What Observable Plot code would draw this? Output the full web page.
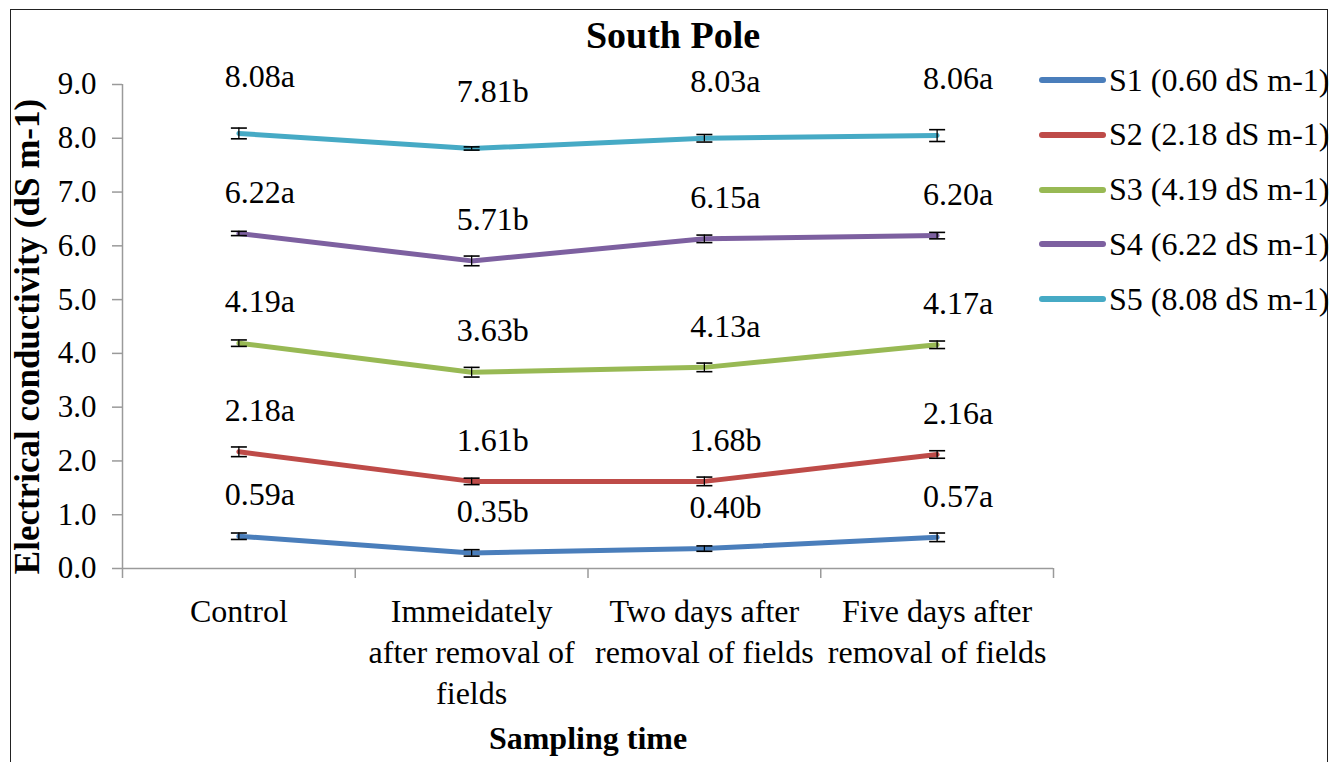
<!DOCTYPE html>
<html>
<head>
<meta charset="utf-8">
<script src="https://cdn.jsdelivr.net/npm/d3@7"></script>
<script src="https://cdn.jsdelivr.net/npm/@observablehq/plot@0.6"></script>
<style>
  body { margin: 0; background: #fff; }
  #wrap { position: relative; width: 1335px; height: 762px; overflow: hidden; background: #fff;
          font-family: "Liberation Serif", "Times New Roman", serif; color: #000; }
  #frame { position: absolute; left: 10px; top: 9px; width: 1318px; height: 800px;
           border: 1.5px solid #222; box-sizing: border-box; }
  #chart { position: absolute; left: 0; top: 0; }
  #title { position: absolute; left: 0; width: 1346px; top: 13px; text-align: center;
           font-weight: bold; font-size: 38px; line-height: 44px; }
  #legend { position: absolute; left: 1038px; top: 0; }
  .lg-row { position: absolute; left: 0; display: flex; align-items: center; white-space: nowrap;
            font-size: 32px; height: 40px; }
  .lg-row svg { display: block; margin-right: 2px; }
</style>
</head>
<body>
<div id="wrap">
  <div id="frame"></div>
  <div id="chart"></div>
  <div id="title"></div>
  <div id="legend"></div>
</div>
<script>
// ---------- data ----------
const chartTitle = "South Pole";
const xTitle = "Sampling time";
const yTitle = "Electrical conductivity (dS m-1)";

const categories = [
  "Control",
  "Immeidately\nafter removal of\nfields",
  "Two days after\nremoval of fields",
  "Five days after\nremoval of fields"
];

const seriesNames = [
  "S1 (0.60 dS m-1)",
  "S2 (2.18 dS m-1)",
  "S3 (4.19 dS m-1)",
  "S4 (6.22 dS m-1)",
  "S5 (8.08 dS m-1)"
];
const seriesColors = ["#4A7EBB", "#BE4B48", "#98B954", "#7D60A0", "#46AAC5"];

// plotted values (as drawn)
const s1 = [0.60, 0.29, 0.37, 0.58];
const s2 = [2.17, 1.62, 1.62, 2.12];
const s3 = [4.19, 3.65, 3.74, 4.16];
const s4 = [6.23, 5.72, 6.13, 6.19];
const s5 = [8.09, 7.81, 8.00, 8.05];

// error bar half-widths
const s1Err = [0.06, 0.06, 0.05, 0.08];
const s2Err = [0.09, 0.06, 0.08, 0.07];
const s3Err = [0.06, 0.09, 0.08, 0.07];
const s4Err = [0.04, 0.09, 0.07, 0.06];
const s5Err = [0.10, 0.03, 0.07, 0.11];

// data labels
const s1Labels = ["0.59a", "0.35b", "0.40b", "0.57a"];
const s2Labels = ["2.18a", "1.61b", "1.68b", "2.16a"];
const s3Labels = ["4.19a", "3.63b", "4.13a", "4.17a"];
const s4Labels = ["6.22a", "5.71b", "6.15a", "6.20a"];
const s5Labels = ["8.08a", "7.81b", "8.03a", "8.06a"];

const yTicks = [0, 1, 2, 3, 4, 5, 6, 7, 8, 9];

// ---------- build table ----------
const values = [s1, s2, s3, s4, s5];
const errors = [s1Err, s2Err, s3Err, s4Err, s5Err];
const labels = [s1Labels, s2Labels, s3Labels, s4Labels, s5Labels];
const rows = [];
seriesNames.forEach((name, si) => {
  categories.forEach((cat, ci) => {
    rows.push({series: name, si, ci, xi: ci + 0.5, y: values[si][ci], err: errors[si][ci], label: labels[si][ci]});
  });
});
const boundaries = d3.range(categories.length + 1);

const capSymbol = {
  draw(context, size) {
    const w = Math.sqrt(size / Math.PI);
    context.moveTo(-w, 0);
    context.lineTo(w, 0);
  }
};

const serif = "'Liberation Serif', 'Times New Roman', serif";

const chart = Plot.plot({
  width: 1335,
  height: 762,
  marginLeft: 122,
  marginRight: 282,
  marginTop: 84,
  marginBottom: 194,
  style: {fontFamily: serif, fontSize: "28px", background: "transparent", overflow: "visible", color: "#000"},
  x: {domain: [0, categories.length]},
  y: {domain: [0, 9]},
  color: {domain: seriesNames, range: seriesColors},
  marks: [
    Plot.ruleX([0], {stroke: "#9a9a9a", strokeWidth: 1.5}),
    Plot.ruleY([0], {stroke: "#9a9a9a", strokeWidth: 1.5}),
    Plot.axisY({ticks: yTicks, tickFormat: d => d.toFixed(1), tickSize: 10, tickPadding: 16,
                stroke: "#9a9a9a", strokeWidth: 1.5, fill: "#000", fontSize: 31, label: null}),
    Plot.axisX({ticks: boundaries, tickFormat: () => "", tickSize: 10, stroke: "#9a9a9a", strokeWidth: 1.5, label: null}),
    Plot.text(categories, {x: (d, i) => i + 0.5, text: d => d, frameAnchor: "bottom", lineAnchor: "top",
                           dy: 25, fontSize: 32, lineHeight: 1.27, fill: "#000"}),
    Plot.line(rows, {x: "xi", y: "y", z: "series", stroke: "series", strokeWidth: 5,
                     strokeLinecap: "round", strokeLinejoin: "round"}),
    Plot.ruleX(rows, {x: "xi", y1: d => d.y - d.err, y2: d => d.y + d.err, stroke: "#000", strokeWidth: 1.3}),
    Plot.dot(rows, {x: "xi", y: d => d.y - d.err, symbol: capSymbol, r: 8, stroke: "#000", strokeWidth: 1.6, fill: "none"}),
    Plot.dot(rows, {x: "xi", y: d => d.y + d.err, symbol: capSymbol, r: 8, stroke: "#000", strokeWidth: 1.6, fill: "none"}),
    Plot.text(rows.filter(d => d.si === 4), {x: "xi", y: "y", text: "label", dx: 21, dy: -57, fontSize: 32, fill: "#000"}),
    Plot.text(rows.filter(d => d.si !== 4), {x: "xi", y: "y", text: "label", dx: 21, dy: -41, fontSize: 32, fill: "#000"}),
    Plot.text([yTitle], {text: d => d, frameAnchor: "left", textAnchor: "middle", lineAnchor: "middle",
                         dx: -95, dy: 10, rotate: -90, fontSize: 35, fontWeight: "bold", fill: "#000"}),
    Plot.text([xTitle], {text: d => d, frameAnchor: "bottom", textAnchor: "middle", lineAnchor: "middle",
                         dy: 170, fontSize: 32, fontWeight: "bold", fill: "#000"})
  ]
});
document.getElementById("chart").appendChild(chart);

document.getElementById("title").textContent = chartTitle;

// legend
const legend = d3.select("#legend");
seriesNames.forEach((name, i) => {
  const row = legend.append("div").attr("class", "lg-row").style("top", (80 + i * 54.75 - 20) + "px");
  const svg = row.append("svg").attr("width", 69).attr("height", 10);
  svg.append("line").attr("x1", 4).attr("x2", 65).attr("y1", 5).attr("y2", 5)
     .attr("stroke", seriesColors[i]).attr("stroke-width", 6).attr("stroke-linecap", "round");
  row.append("span").text(name);
});
</script>
</body>
</html>
